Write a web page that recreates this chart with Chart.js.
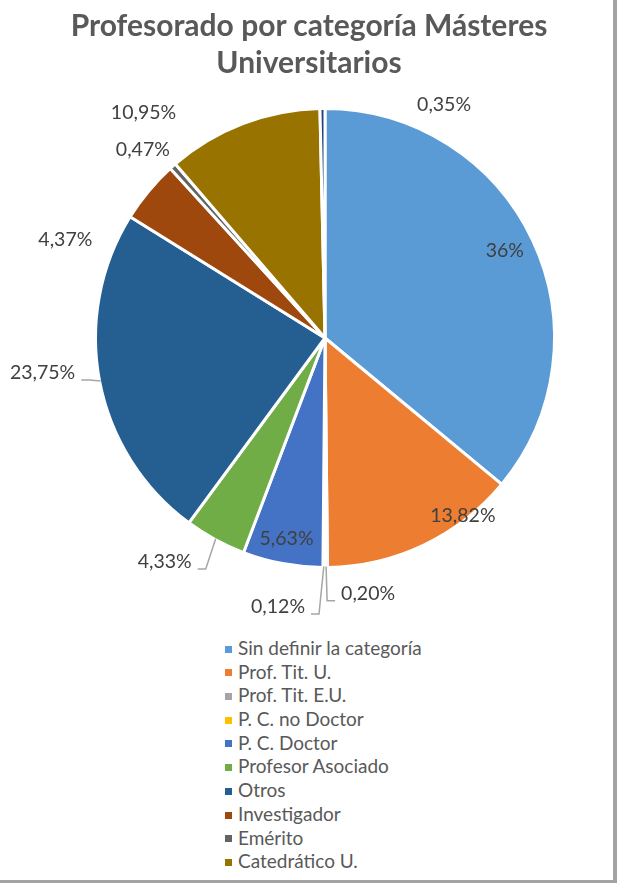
<!DOCTYPE html>
<html>
<head>
<meta charset="utf-8">
<script src="https://cdn.jsdelivr.net/npm/chart.js@4"></script>
<style>
  html, body { margin: 0; padding: 0; background: #fff; }
  #frame {
    position: relative; width: 613px; height: 880px; overflow: hidden;
    border-right: 4px solid #a3a3a3; border-bottom: 3px solid #a3a3a3; background: #fff;
  }
  #title {
    position: absolute; left: 0; top: 6px; width: 618px; text-align: center;
    font-family: Lato, sans-serif; font-weight: bold; font-size: 30px; line-height: 37px; color: #595959;
  }
  #chartBox { position: absolute; left: 0; top: 0; width: 613px; height: 630px; }
  #legend {
    position: absolute; left: 225px; top: 636px; height: 237px; overflow: hidden;
    font-family: Lato, sans-serif; font-size: 19px; color: #595959;
  }
  #legend .row { height: 23.7px; line-height: 23.7px; white-space: nowrap; }
  #legend .box { display: inline-block; width: 7px; height: 7px; margin-right: 6px; vertical-align: middle; position: relative; top: -1px; }
</style>
</head>
<body>
<div id="frame">
  <div id="chartBox"><canvas id="pieChart"></canvas></div>
  <div id="title">Profesorado por categoría Másteres<br>Universitarios</div>
  <div id="legend"></div>
</div>
<script>
const categories = [
  'Sin definir la categoría', 'Prof. Tit. U.', 'Prof. Tit. E.U.', 'P. C. no Doctor',
  'P. C. Doctor', 'Profesor Asociado', 'Otros', 'Investigador', 'Emérito',
  'Catedrático U.', 'Ayudante'
];
const percentages = [36, 13.82, 0.20, 0.12, 5.63, 4.33, 23.75, 4.37, 0.47, 10.95, 0.35];
const valueLabels = ['36%', '13,82%', '0,20%', '0,12%', '5,63%', '4,33%', '23,75%', '4,37%', '0,47%', '10,95%', '0,35%'];
const sliceColors = ['#5B9BD5', '#ED7D31', '#A5A5A5', '#FFC000', '#4472C4', '#70AD47',
                     '#255E91', '#9E480E', '#636363', '#997300', '#264478'];

// where each value label sits: angle shift from slice middle (deg), distance as share of radius
const labelPlacement = [
  { shift: -0.6, dist: 0.87, leader: false },
  { shift: -12.3, dist: 0.98, leader: false },
  { shift: -9.3, dist: 1.13, leader: true },
  { shift: 9.6, dist: 1.19, leader: true },
  { shift: 0.2, dist: 0.89, leader: false },
  { shift: 7, dist: 1.20, leader: true },
  { shift: 3.8, dist: 1.24, leader: true },
  { shift: -19, dist: 1.21, leader: false },
  { shift: -2.6, dist: 1.14, leader: false },
  { shift: -17.9, dist: 1.26, leader: false },
  { shift: 27.7, dist: 1.14, leader: false }
];

const sliceLabels = {
  id: 'sliceLabels',
  afterDatasetsDraw(chart) {
    const ctx = chart.ctx;
    const meta = chart.getDatasetMeta(0);
    ctx.save();
    ctx.font = '19.5px Lato';
    ctx.fillStyle = '#404040';
    ctx.textAlign = 'center';
    ctx.textBaseline = 'middle';
    meta.data.forEach((arc, i) => {
      const { x, y, startAngle, endAngle, outerRadius } =
        arc.getProps(['x', 'y', 'startAngle', 'endAngle', 'outerRadius'], true);
      const mid = (startAngle + endAngle) / 2;
      const p = labelPlacement[i];
      const a = mid + p.shift * Math.PI / 180;
      const lx = x + outerRadius * p.dist * Math.cos(a);
      const ly = y + outerRadius * p.dist * Math.sin(a);
      const text = valueLabels[i];
      if (p.leader) {
        const w = ctx.measureText(text).width;
        const onLeft = lx < x;
        const sx = onLeft ? lx + w / 2 + 6 : lx - w / 2 - 6;
        const ex = onLeft ? sx + 8 : sx - 8;
        const sy = ly + 7;
        ctx.beginPath();
        ctx.strokeStyle = '#a6a6a6';
        ctx.lineWidth = 1.5;
        ctx.moveTo(sx, sy);
        ctx.lineTo(ex, sy);
        ctx.lineTo(x + (outerRadius - 1) * Math.cos(mid), y + (outerRadius - 1) * Math.sin(mid));
        ctx.stroke();
      }
      ctx.fillText(text, lx, ly);
    });
    ctx.restore();
  }
};

const pieChart = new Chart(document.getElementById('pieChart'), {
  type: 'pie',
  data: {
    labels: categories,
    datasets: [{
      data: percentages,
      backgroundColor: sliceColors,
      borderColor: '#ffffff',
      borderWidth: 3
    }]
  },
  options: {
    responsive: true,
    maintainAspectRatio: false,
    animation: false,
    layout: { padding: { left: 94, right: 57, top: 107, bottom: 61 } },
    plugins: {
      legend: { display: false },
      tooltip: { enabled: false }
    }
  },
  plugins: [sliceLabels]
});

// legend in one column, built from the chart's own data
const legendEl = document.getElementById('legend');
pieChart.data.labels.forEach((name, i) => {
  const row = document.createElement('div');
  row.className = 'row';
  const box = document.createElement('span');
  box.className = 'box';
  box.style.background = pieChart.data.datasets[0].backgroundColor[i];
  row.appendChild(box);
  row.appendChild(document.createTextNode(name));
  legendEl.appendChild(row);
});
</script>
</body>
</html>
